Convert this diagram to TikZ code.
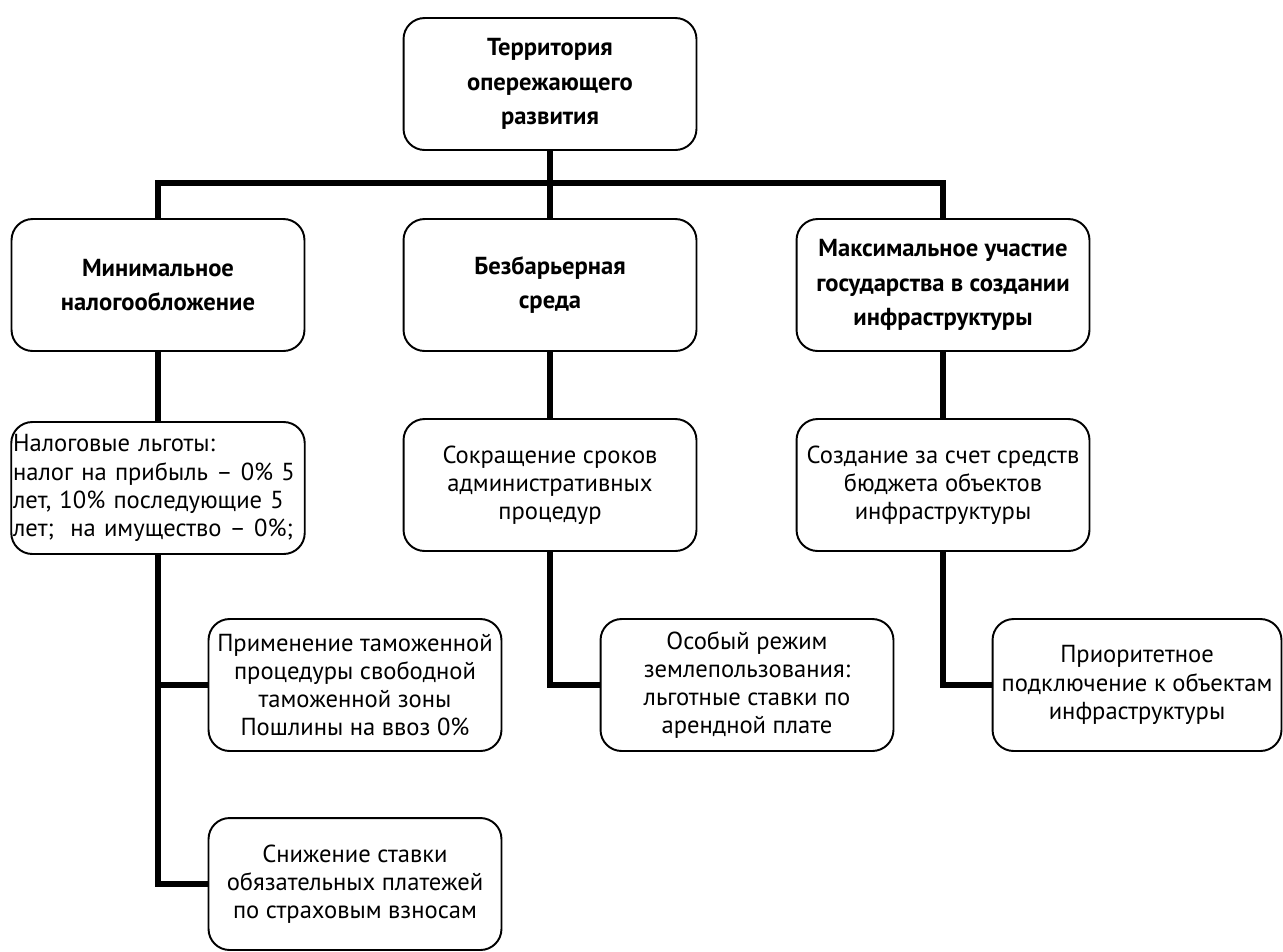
\documentclass[tikz,border=0pt]{standalone}
\usepackage{fontspec}
\setmainfont{PT Sans}

\tikzset{
  box/.style={draw, line width=1.1pt, rounded corners=12pt, minimum width=5.86cm,
    minimum height=2.64cm, align=center, inner sep=1pt,
    font=\fontsize{14}{16}\selectfont},
  headbox/.style={box, font=\fontsize{14}{19.5}\selectfont\bfseries},
  conn/.style={line width=3.4pt},
}

\begin{document}
\begin{tikzpicture}[x=0.02cm,y=-0.02cm]
        \useasboundingbox (0,0) rectangle (1283,951);

        % top
        \node[headbox] (top) at (550,84) {Территория\\опережающего\\развития};

        % second row
        \node[headbox] (nalog) at (158,285) {Минимальное\\налогообложение};
        \node[headbox] (sreda) at (550,285) {Безбарьерная\\среда};
        \node[headbox] (gos) at (943,285) {Максимальное участие\\государства в создании\\инфраструктуры};

        % third row
        \node[box, text width=5.8cm, align=left] (lgoty) at (158,488)
            {Налоговые льготы:\\налог на прибыль – 0\% 5\\лет, 10\% последующие 5\\лет;\ \ на имущество – 0\%;};
        \node[box] (sroki) at (550,485) {Сокращение сроков\\административных\\процедур};
        \node[box] (byudzhet) at (943,485) {Создание за счет средств\\бюджета объектов\\инфраструктуры};

        % fourth row
        \node[box] (tamozh) at (355,685) {Применение таможенной\\процедуры свободной\\таможенной зоны\\Пошлины на ввоз 0\%};
        \node[box] (vznosy) at (355,884) {Снижение ставки\\обязательных платежей\\по страховым взносам};
        \node[box] (zemlya) at (747,685) {Особый режим\\землепользования:\\льготные ставки по\\арендной плате};
        \node[box, minimum width=5.78cm] (podkl) at (1137,685) {Приоритетное\\подключение к объектам\\инфраструктуры};

        % connectors
        \coordinate (hub) at (550,183);
        \draw[conn] (top.south) -- (sreda.north);
        \draw[conn] (nalog.north) |- (hub) -| (gos.north);
        \draw[conn] (nalog.south) -- (lgoty.north);
        \draw[conn] (sreda.south) -- (sroki.north);
        \draw[conn] (gos.south) -- (byudzhet.north);
        \draw[conn] (lgoty.south) |- (vznosy.west);
        \draw[conn] (lgoty.south |- tamozh.west) -- (tamozh.west);
        \draw[conn] (sroki.south) |- (zemlya.west);
        \draw[conn] (byudzhet.south) |- (podkl.west);
    \end{tikzpicture}
\end{document}
